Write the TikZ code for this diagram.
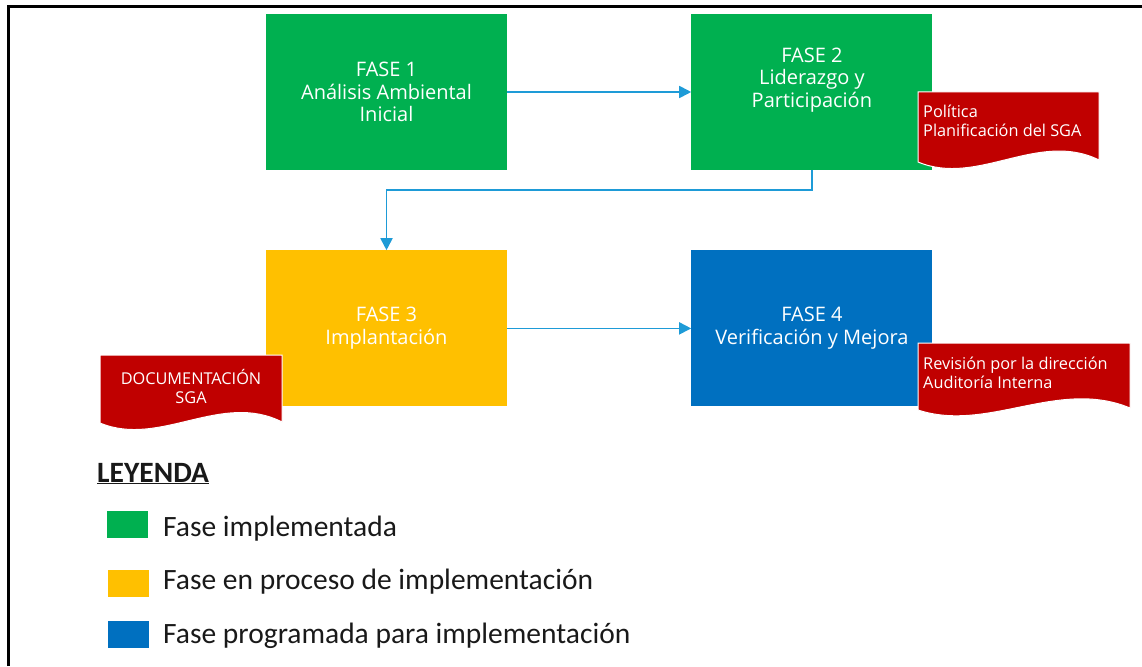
\documentclass[tikz,border=0pt]{standalone}
\usepackage{fontspec}
\setmainfont{Open Sans}
\newfontfamily\legfont{Carlito}
\usetikzlibrary{positioning,arrows.meta}

\definecolor{faseverde}{RGB}{0,176,80}
\definecolor{faseamarillo}{RGB}{255,192,0}
\definecolor{faseazul}{RGB}{0,112,192}
\definecolor{hojarojo}{RGB}{192,0,0}
\definecolor{flechaazul}{RGB}{30,155,215}

\tikzset{
	fase/.style={minimum width=241pt, minimum height=156pt, inner sep=0pt,
		align=center, text=white, font=\fontsize{20}{22.5}\selectfont},
	flecha/.style={draw=flechaazul, line width=1.8pt, -{Triangle[length=12pt,width=12pt]}},
	hoja/.style={fill=hojarojo, draw=white, line width=1pt},
	hojatexto/.style={text=white, inner sep=5pt, font=\fontsize{16.3}{19}\selectfont},
	caja/.style={minimum width=41pt, minimum height=27pt, inner sep=0pt},
	leyenda/.style={anchor=base west, inner sep=0pt, text=black!90,
		font=\legfont\fontsize{29.5}{34}\selectfont},
}

\begin{document}
\begin{tikzpicture}[x=1pt,y=-1pt]
	\useasboundingbox (0,0) rectangle (1142,666);
	%% marco
	\draw[line width=3pt] (8.5,666) -- (8.5,6.5) -- (1142,6.5);
	%% fases
	\node[fase, fill=faseverde] (f1) at (386.5,92) {FASE 1\\Análisis Ambiental\\Inicial};
	\node[fase, fill=faseverde, right=184pt of f1] (f2) {FASE 2\\Liderazgo y\\Participación\\ \strut};
	\node[fase, fill=faseamarillo, below=80pt of f1] (f3) {FASE 3\\Implantación};
	\node[fase, fill=faseazul, right=184pt of f3] (f4) {FASE 4\\Verificación y Mejora};
	% flechas entre fases
	\draw[flecha] (f1) -- (f2);
	\draw[flecha] (f2.south) -- ++(0,20) -| (f3.north);
	\draw[flecha] (f3) -- (f4);
	%% documentos
	\draw[hoja] (918,92) -- (1099,92) -- (1099,160) .. controls (1038,130) and (978,187) .. (918,162) -- cycle;
	\draw[hoja] (100,355) -- (282,355) -- (282,422) .. controls (221,391) and (160,448) .. (100,423) -- cycle;
	\draw[hoja] (918,343) -- (1130,343) -- (1130,408) .. controls (1058,378) and (988,433) .. (918,410) -- cycle;
	\node[hojatexto, anchor=west, align=left] (d2) at (918,121) {Política\\Planificación del SGA};
	\node[hojatexto, align=center] (d3) at (191,386) {DOCUMENTACIÓN\\SGA};
	\node[hojatexto, anchor=west, align=left] (d4) at (918,372.5) {Revisión por la dirección\\Auditoría Interna};
	%% leyenda
	\node[leyenda, font=\legfont\bfseries\fontsize{29.5}{34}\selectfont] (ley) at (97,482) {\underline{LEYENDA}};
	\node[caja, fill=faseverde] (k1) at (127.5,524.5) {};
	\node[caja, fill=faseamarillo] (k2) at (128.5,583.5) {};
	\node[caja, fill=faseazul] (k3) at (128.5,634.5) {};
	\node[leyenda] (t1) at (163,536) {Fase implementada};
	\node[leyenda] (t2) at (163,589.5) {Fase en proceso de implementación};
	\node[leyenda] (t3) at (163,643) {Fase programada para implementación};
\end{tikzpicture}
\end{document}
